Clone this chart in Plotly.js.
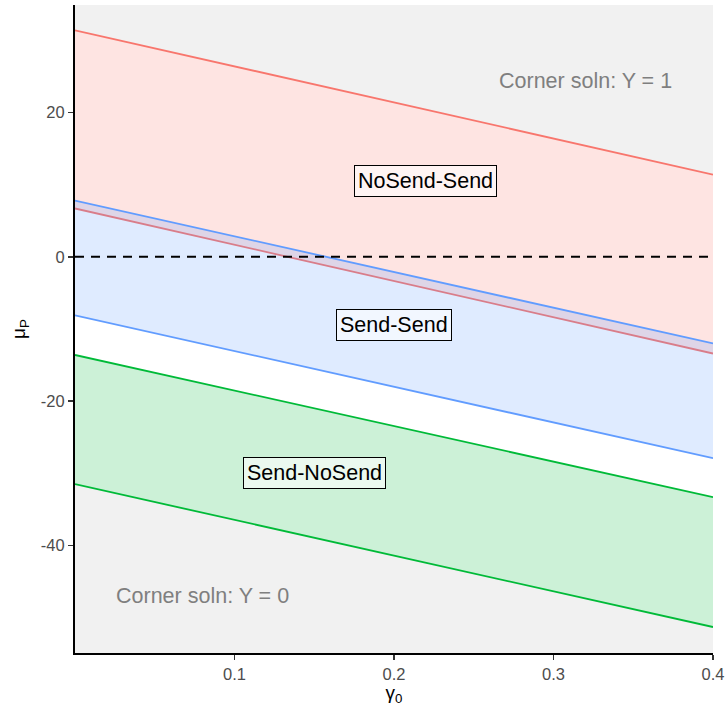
<!DOCTYPE html>
<html>
<head>
<meta charset="utf-8">
<script src="https://cdn.plot.ly/plotly-3.0.1.min.js"></script>
<style>html,body{margin:0;padding:0;background:#fff;}#chart{width:727px;height:706px;}</style>
</head>
<body>
<div id="chart"></div>
<script>
// ---- data ----
const gamma = [0, 0.4];
const redUpper = [31.4, 11.4];
const redLower = [6.7, -13.4];
const blueUpper = [7.8, -12.0];
const blueLower = [-8.1, -27.9];
const greenUpper = [-13.6, -33.3];
const greenLower = [-31.5, -51.3];
const zeroLine = [0, 0];

const xTickVals = [0.1, 0.2, 0.3, 0.4];
const xTickText = ['0.1', '0.2', '0.3', '0.4'];
const yTickVals = [-40, -20, 0, 20];
const yTickText = ['-40', '-20', '0', '20'];

const regionLabels = ['NoSend-Send', 'Send-Send', 'Send-NoSend'];
const regionLabelX = [0.22, 0.2, 0.15];
const regionLabelY = [10.5, -9.5, -30];

const cornerLabels = ['Corner soln: Y = 1', 'Corner soln: Y = 0'];
const cornerLabelX = [0.32, 0.08];
const cornerLabelY = [24.3, -47];

// ---- styles ----
const FONT = 'Liberation Sans, Arial, Helvetica, sans-serif';
const RED = '#F8766D', BLUE = '#619CFF', GREEN = '#00BA38';
const LW = 1.8;
const base = {x: gamma, mode: 'lines', hoverinfo: 'skip', showlegend: false};

const traces = [
  Object.assign({}, base, {y: redUpper, line: {width: 0}}),
  Object.assign({}, base, {y: greenLower, line: {width: 0}, fill: 'tonexty', fillcolor: '#ffffff'}),
  Object.assign({}, base, {y: redUpper, line: {color: RED, width: LW}}),
  Object.assign({}, base, {y: redLower, line: {color: RED, width: LW}, fill: 'tonexty', fillcolor: 'rgba(248,118,109,0.2)'}),
  Object.assign({}, base, {y: blueUpper, line: {width: 0}}),
  Object.assign({}, base, {y: blueLower, line: {width: 0}, fill: 'tonexty', fillcolor: 'rgba(97,156,255,0.2)'}),
  Object.assign({}, base, {y: blueUpper, line: {color: BLUE, width: LW}}),
  Object.assign({}, base, {y: blueLower, line: {color: BLUE, width: LW}}),
  Object.assign({}, base, {y: greenUpper, line: {color: GREEN, width: LW}}),
  Object.assign({}, base, {y: greenLower, line: {color: GREEN, width: LW}, fill: 'tonexty', fillcolor: 'rgba(0,186,56,0.2)'}),
  Object.assign({}, base, {y: zeroLine, line: {color: '#000000', width: 2, dash: '9px,7px'}})
];

const annotations = [];
regionLabels.forEach((t, i) => annotations.push({
  x: regionLabelX[i], y: regionLabelY[i], xref: 'x', yref: 'y', text: t, showarrow: false,
  font: {family: FONT, size: 21.5, color: '#000'},
  bgcolor: 'rgba(255,255,255,0.6)', bordercolor: '#000', borderwidth: 1, borderpad: 3
}));
cornerLabels.forEach((t, i) => annotations.push({
  x: cornerLabelX[i], y: cornerLabelY[i], xref: 'x', yref: 'y', text: t, showarrow: false,
  font: {family: FONT, size: 21.5, color: '#7f7f7f'}
}));

const axisCommon = {
  showgrid: false, zeroline: false, showline: true, linecolor: '#000', linewidth: 2,
  ticks: 'outside', ticklen: 5, tickwidth: 1.5, tickcolor: '#333',
  tickfont: {family: FONT, size: 16.5, color: '#4d4d4d'}
};

const layout = {
  width: 727, height: 706,
  margin: {l: 75, r: 14, t: 5, b: 53},
  paper_bgcolor: '#ffffff', plot_bgcolor: '#F1F1F1',
  showlegend: false,
  xaxis: Object.assign({}, axisCommon, {
    range: [0, 0.4], tickvals: xTickVals, ticktext: xTickText,
    title: {text: 'γ<sub>0</sub>', standoff: 3, font: {family: FONT, size: 19, color: '#000'}}
  }),
  yaxis: Object.assign({}, axisCommon, {
    range: [-54.9, 34.9], tickvals: yTickVals, ticktext: yTickText,
    title: {text: 'μ<sub>P</sub>', standoff: 10, font: {family: FONT, size: 19, color: '#000'}}
  }),
  annotations: annotations
};

Plotly.newPlot('chart', traces, layout, {displayModeBar: false, staticPlot: true});
</script>
</body>
</html>
